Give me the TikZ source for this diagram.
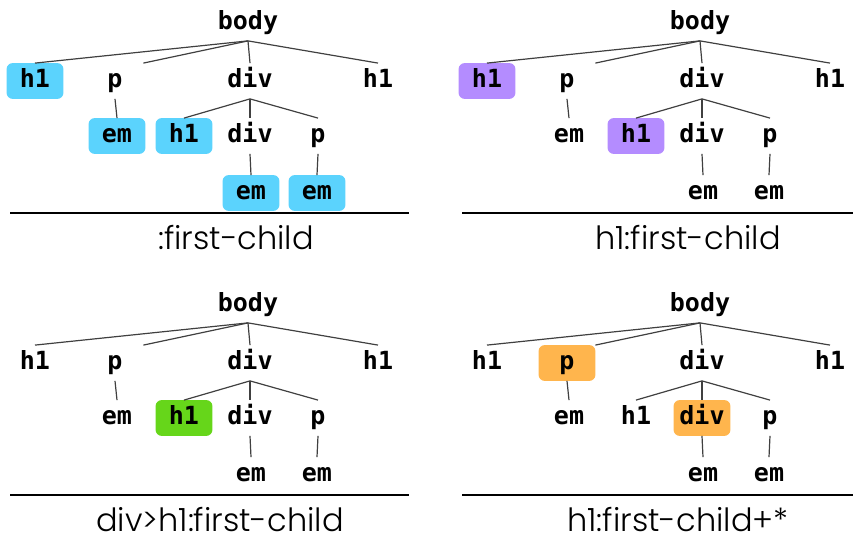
\documentclass[tikz,border=0pt]{standalone}
\usepackage{fontspec}
\setmonofont{DejaVu Sans Mono}
\newfontfamily\capfont{Poppins Light}
\usetikzlibrary{backgrounds}
\definecolor{selblue}{HTML}{5BD3FD}
\definecolor{selpurple}{HTML}{B48CFF}
\definecolor{selgreen}{HTML}{66D61A}
\definecolor{selorange}{HTML}{FFB54D}
\tikzset{
  tag/.style = {align=center, inner sep=0pt, text centered, minimum width=28pt, minimum height=17.5pt,
    text height=8pt, text depth=1.5pt, font=\ttfamily\bfseries\fontsize{12.5}{14}\selectfont},
  link/.style = {draw=black!75, line width=0.6pt},
  rule/.style = {draw=black, line width=0.6pt},
  caption/.style = {anchor=base, inner sep=0pt, text depth=0pt, font=\capfont\fontsize{16}{19}\selectfont},
  hilite/.style = {rounded corners=3pt}
}
\begin{document}
\begin{tikzpicture}[x=0.5pt,y=-0.5pt]
    \useasboundingbox (0,0) rectangle (853,539);
    % one panel per selector: name/shift/colour/selected tags/caption
    \foreach \pn/\dx/\dy/\hlc/\hl/\capx/\captext in {
        a/0/0/selblue/{h1a,em1,h1b,em2,em3}/236/{:first-child},
        b/452/0/selpurple/{h1a,h1b}/236/{h1:first-child},
        c/0/282/selgreen/{h1b}/220/{div>h1:first-child},
        d/452/282/selorange/{p1,div2}/226/{h1:first-child+*}}{
      \begin{scope}[shift={(\dx,\dy)}]
        % Root:
        \node [tag] (\pn-body) at (248,23) {body};
        % Layer 1:
        \node [tag] (\pn-h1a) at (35,81) {h1};
        \node [tag] (\pn-p1) at (115,81) {p};
        \node [tag] (\pn-div1) at (250,81) {div};
        \node [tag] (\pn-h1d) at (378,81) {h1};
        % Layer 2:
        \node [tag] (\pn-em1) at (117,136) {em};
        \node [tag] (\pn-h1b) at (184,136) {h1};
        \node [tag] (\pn-div2) at (250,136) {div};
        \node [tag] (\pn-p2) at (318,136) {p};
        % Layer 3:
        \node [tag] (\pn-em2) at (251,193) {em};
        \node [tag] (\pn-em3) at (317,193) {em};
        % links
        \draw [link] (\pn-body.south) -- (\pn-h1a.north);
        \draw [link] (\pn-body.south) -- (\pn-p1.north east);
        \draw [link] (\pn-body.south) -- (\pn-div1.north);
        \draw [link] (\pn-body.south) -- (\pn-h1d.north);
        \draw [link] (\pn-p1.south) -- (\pn-em1.north);
        \draw [link] (\pn-div1.south) -- (\pn-h1b.north);
        \draw [link] (\pn-div1.south) -- (\pn-div2.north);
        \draw [link] (\pn-div1.south) -- (\pn-p2.north);
        \draw [link] (\pn-div2.south) -- (\pn-em2.north);
        \draw [link] (\pn-p2.south) -- (\pn-em3.north);
        % selected tags
        \begin{pgfonlayer}{background}
          \foreach \n in \hl {
            \fill [hilite, \hlc] (\pn-\n.south west) rectangle (\pn-\n.north east);
          }
        \end{pgfonlayer}
        % selector
        \draw [rule] (10,213) -- (409,213);
        \node [caption] (\pn-cap) at (\capx,250) {\captext};
      \end{scope}
    }
\end{tikzpicture}
\end{document}
